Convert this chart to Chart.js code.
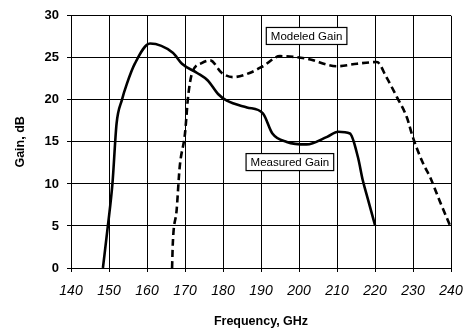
<!DOCTYPE html>
<html>
<head>
<meta charset="utf-8">
<script src="https://cdn.jsdelivr.net/npm/chart.js@4.4.1/dist/chart.umd.min.js"></script>
<style>
  html, body { margin: 0; padding: 0; background: #fff; }
  #wrap { width: 465px; height: 329px; }
</style>
</head>
<body>
<div id="wrap"><canvas id="gainChart" width="465" height="329"></canvas></div>
<script>
// Measured gain (solid) - frequency GHz / gain dB
const measuredFreq = [148.4, 149.7, 150.9, 152.0, 153.4, 154.7, 156.8, 160.8, 166.8, 169.2, 173.2, 176.0, 178.7, 181.0, 186.3, 190.5, 193.0, 196.8, 202.0, 207.4, 210.3, 213.4, 215.5, 216.8, 218.0, 220.0];
const measuredGain = [0, 5, 10, 17.2, 20, 21.9, 24.3, 26.7, 25.6, 24.3, 23.2, 22.3, 20.7, 19.9, 19.1, 18.4, 16.0, 15.0, 14.7, 15.6, 16.2, 16.0, 13.2, 10.4, 8.4, 5.1];

// Modeled gain (dashed)
const modeledFreq = [166.6, 166.8, 167.8, 168.6, 170.0, 170.8, 171.8, 174.5, 176.6, 179.7, 182.6, 187.0, 190.5, 195.0, 202.0, 210.0, 215.3, 220.5, 223.0, 225.8, 228.4, 230.0, 232.7, 234.5, 237.0, 239.7];
const modeledGain = [0, 3, 6.9, 12, 16, 20.3, 23.1, 24.4, 24.7, 23.2, 22.7, 23.2, 24.0, 25.2, 24.9, 24.0, 24.3, 24.5, 22.7, 20.3, 17.9, 15.5, 12.4, 10.8, 8.0, 5.1];

const xTicks = [140, 150, 160, 170, 180, 190, 200, 210, 220, 230, 240];
const yTicks = [0, 5, 10, 15, 20, 25, 30];

// callout labels: [text, freq, gain]
const labels = [
    ['Modeled Gain', 202, 27.6],
    ['Measured Gain', 197.6, 12.6]
];

function toPoints(xs, ys) {
    return xs.map((x, i) => ({ x: x, y: ys[i] }));
}

const calloutPlugin = {
    id: 'callouts',
    afterDatasetsDraw(chart) {
        const ctx = chart.ctx;
        const xs = chart.scales.x, ys = chart.scales.y;
        ctx.save();
        ctx.font = '11.5px "Liberation Sans", Arial, sans-serif';
        ctx.textAlign = 'center';
        ctx.textBaseline = 'middle';
        labels.forEach(([text, fx, fy]) => {
            const cx = xs.getPixelForValue(fx);
            const cy = ys.getPixelForValue(fy);
            const w = ctx.measureText(text).width + 9;
            const h = 17;
            ctx.fillStyle = '#fff';
            ctx.fillRect(cx - w / 2, cy - h / 2, w, h);
            ctx.strokeStyle = '#000';
            ctx.lineWidth = 1.2;
            ctx.strokeRect(cx - w / 2, cy - h / 2, w, h);
            ctx.fillStyle = '#000';
            ctx.fillText(text, cx, cy + 1);
        });
        ctx.restore();
    }
};

const font = '"Liberation Sans", Arial, sans-serif';
const ctx = document.getElementById('gainChart').getContext('2d');
new Chart(ctx, {
    type: 'line',
    data: {
        datasets: [{
            label: 'Measured Gain',
            data: toPoints(measuredFreq, measuredGain),
            borderColor: '#000',
            borderWidth: 2.6,
            pointRadius: 0,
            cubicInterpolationMode: 'monotone',
            fill: false
        }, {
            label: 'Modeled Gain',
            data: toPoints(modeledFreq, modeledGain),
            borderColor: '#000',
            borderWidth: 2.6,
            borderDash: [7, 4],
            pointRadius: 0,
            cubicInterpolationMode: 'monotone',
            fill: false
        }]
    },
    options: {
        responsive: false,
        animation: false,
        layout: { padding: { top: 15, right: 14, left: 13, bottom: 0 } },
        plugins: {
            legend: { display: false },
            tooltip: { enabled: false }
        },
        scales: {
            x: {
                type: 'linear',
                min: 140,
                max: 240,
                afterBuildTicks: (scale) => { scale.ticks = xTicks.map(v => ({ value: v })); },
                afterFit: (scale) => {
                    scale.height = 61;
                    scale.paddingLeft = 0;
                    scale.paddingRight = 0;
                },
                grid: { color: '#000', lineWidth: 1, tickLength: 4 },
                border: { color: '#000', width: 1 },
                ticks: {
                    color: '#000',
                    padding: 11,
                    maxRotation: 0,
                    font: { family: font, size: 14, style: 'italic' }
                },
                title: {
                    display: true,
                    text: 'Frequency, GHz',
                    color: '#000',
                    padding: { top: 4, bottom: 0 },
                    font: { family: font, size: 12.5, weight: 'bold' }
                }
            },
            y: {
                min: 0,
                max: 30,
                afterBuildTicks: (scale) => { scale.ticks = yTicks.map(v => ({ value: v })); },
                afterFit: (scale) => { scale.width = 58; },
                grid: { color: '#000', lineWidth: 1, tickLength: 4 },
                border: { color: '#000', width: 1 },
                ticks: {
                    color: '#000',
                    padding: 8,
                    font: { family: font, size: 13, weight: 'bold' }
                },
                title: {
                    display: true,
                    text: 'Gain, dB',
                    color: '#000',
                    padding: { top: 0, bottom: 4 },
                    font: { family: font, size: 12.5, weight: 'bold' }
                }
            }
        }
    },
    plugins: [calloutPlugin]
});
</script>
</body>
</html>
